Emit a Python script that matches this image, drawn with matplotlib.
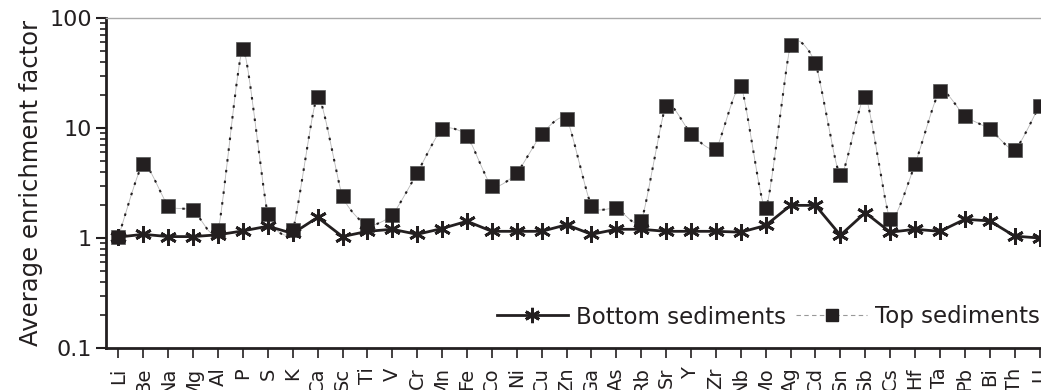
import numpy as np
import matplotlib
matplotlib.use("Agg")
import matplotlib.pyplot as plt
from matplotlib.lines import Line2D

elements = ["Li", "Be", "Na", "Mg", "Al", "P", "S", "K", "Ca", "Sc", "Ti", "V", "Cr", "Mn",
            "Fe", "Co", "Ni", "Cu", "Zn", "Ga", "As", "Rb", "Sr", "Y", "Zr", "Nb", "Mo", "Ag",
            "Cd", "Sn", "Sb", "Cs", "Hf", "Ta", "Pb", "Bi", "Th", "U"]

bottom_sediments = [1.02, 1.08, 1.03, 1.03, 1.07, 1.16, 1.28, 1.10, 1.54, 1.03, 1.15, 1.20,
                    1.08, 1.22, 1.42, 1.15, 1.15, 1.15, 1.32, 1.08, 1.20, 1.20, 1.15, 1.15,
                    1.15, 1.13, 1.30, 1.98, 1.98, 1.06, 1.70, 1.13, 1.20, 1.15, 1.48, 1.43,
                    1.04, 1.00]

top_sediments = [1.03, 4.7, 1.97, 1.8, 1.18, 52, 1.66, 1.18, 19.3, 2.4, 1.3, 1.63, 3.9, 9.8,
                 8.5, 2.95, 3.9, 8.8, 12.1, 1.97, 1.87, 1.44, 16, 8.8, 6.5, 23.9, 1.87, 56.5,
                 38.7, 3.7, 19.3, 1.49, 4.7, 21.8, 12.8, 9.8, 6.35, 16]

y_ticks = [0.1, 1, 10, 100]
y_ticklabels = ["0.1", "1", "10", "100"]

INK = "#231f20"

def smooth(xs, ys, n=20, k=0.3):
    # cardinal spline through the points (in log space for y)
    xs = np.asarray(xs, float)
    ly = np.log10(np.asarray(ys, float))
    px = np.concatenate([[2 * xs[0] - xs[1]], xs, [2 * xs[-1] - xs[-2]]])
    py = np.concatenate([[2 * ly[0] - ly[1]], ly, [2 * ly[-1] - ly[-2]]])
    outx, outy = [], []
    t = np.linspace(0, 1, n, endpoint=False)
    h00 = 2 * t ** 3 - 3 * t ** 2 + 1
    h10 = t ** 3 - 2 * t ** 2 + t
    h01 = -2 * t ** 3 + 3 * t ** 2
    h11 = t ** 3 - t ** 2
    for i in range(1, len(px) - 2):
        for arr, out in ((px, outx), (py, outy)):
            p0, p1, p2, p3 = arr[i - 1], arr[i], arr[i + 1], arr[i + 2]
            m1 = k * (p2 - p0)
            m2 = k * (p3 - p1)
            out.extend(h00 * p1 + h10 * m1 + h01 * p2 + h11 * m2)
    outx.append(xs[-1])
    outy.append(ly[-1])
    return np.array(outx), 10 ** np.array(outy)

fig = plt.figure(figsize=(10.41, 3.9), dpi=100)
ax = fig.add_axes([106 / 1041, 42 / 390, 946 / 1041, 330 / 390])

x = np.arange(len(elements))

sx, sy = smooth(x, top_sediments)
ax.plot(sx, sy, color="#b8b8b8", lw=0.6, zorder=2)
ax.plot(sx, sy, color=INK, lw=1.5, linestyle=(0, (1.2, 4)), zorder=2)
ax.plot(x, top_sediments, linestyle="none", marker="s", markersize=10.5,
        color=INK, markeredgecolor="#555555", markeredgewidth=0.5, zorder=3)

ax.plot(x, bottom_sediments, color=INK, lw=2, marker=(6, 2, 0), markersize=12,
        markeredgewidth=2, markeredgecolor=INK, zorder=4)

ax.set_yscale("log")
ax.set_ylim(0.1, 100)
ax.set_xlim(-0.5, 37.5)
ax.set_yticks(y_ticks)
ax.set_yticklabels(y_ticklabels)
ax.set_xticks(x)
ax.set_xticklabels(elements, rotation=90, va="top", ha="center")
ax.tick_params(axis="y", which="major", direction="out", length=7, width=1.5,
               labelsize=16, colors=INK, pad=3)
ax.tick_params(axis="y", which="minor", direction="out", length=4, width=1.2, colors=INK)
ax.tick_params(axis="x", which="major", direction="out", length=7, width=1.2,
               labelsize=14, colors=INK, pad=7)
ax.set_ylabel("Average enrichment factor", fontsize=17.5, color=INK, labelpad=5)

for s in ("left", "bottom"):
    ax.spines[s].set_linewidth(2)
    ax.spines[s].set_color(INK)
ax.spines["top"].set_color("#aaaaaa")
ax.spines["top"].set_linewidth(1)
ax.spines["right"].set_visible(False)

h1 = Line2D([], [], color=INK, lw=2, marker=(6, 2, 0), markersize=11, markeredgewidth=2)
h2 = Line2D([], [], color="#999999", lw=0.8, linestyle=(0, (4, 3)), marker="s",
            markersize=9, markerfacecolor=INK, markeredgecolor=INK)
leg = ax.legend([h1, h2], ["Bottom sediments", "Top sediments"], ncol=2, frameon=False,
                loc="center right", bbox_to_anchor=(1040 / 1041, 73 / 390),
                bbox_transform=fig.transFigure, fontsize=16.5, handlelength=3.1,
                handletextpad=0.35, columnspacing=0.45, borderaxespad=0, borderpad=0)
for t in leg.get_texts():
    t.set_color(INK)

fig.savefig("out.png", dpi=100)
